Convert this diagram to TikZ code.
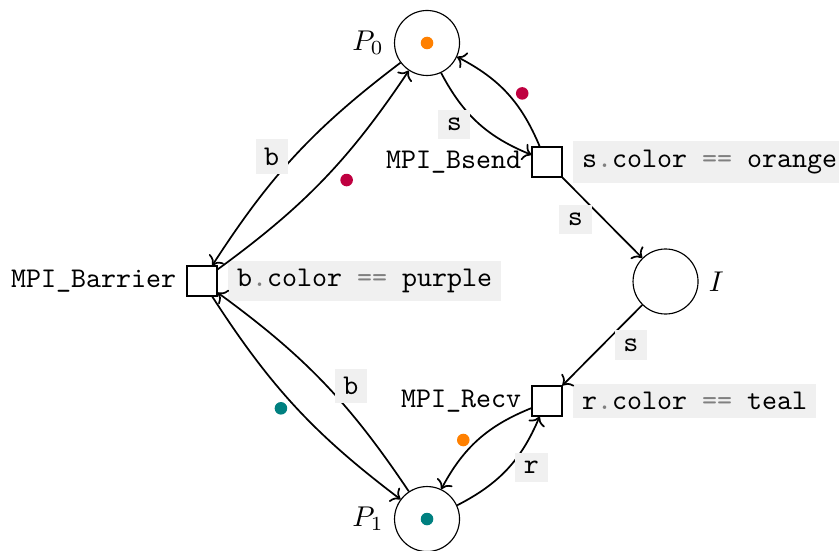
\documentclass[tikz,border=0pt]{standalone}
\usetikzlibrary{arrows.meta,positioning}
\tikzset{
	->,
	place/.style ={circle, draw, thin, minimum size=22.75pt, inner sep=0pt},
	transition/.style ={rectangle, draw, thin, minimum size=10.5pt, inner sep=0pt},
	token/.style = {circle, inner sep=0pt, minimum size=4.4pt},
	guard/.style = {fill=black!6, inner sep=3pt, font=\ttfamily},
	inscr/.style = {fill=black!6, inner sep=3pt, font=\ttfamily}
}
\newcommand{\guardop}[1]{{\color{black!50}#1}}

\begin{document}
\begin{tikzpicture}[semithick]
    \useasboundingbox (0,0) rectangle (10.321,6.766);

    \node[place, label=left:$P_0$] (p0) at (5.253,6.237) {};
    \node[place, label=left:$P_1$] (p1) at (5.253,0.381) {};
    \node[place, label=right:$I$] (i) at (8.187,3.303) {};
    \node[transition, label={left:\texttt{MPI\_Bsend}}] (bsend) at (6.729,4.773) {};
    \node[transition, label={left:\texttt{MPI\_Barrier}}] (barrier) at (2.485,3.309) {};
    \node[transition, label={left:\texttt{MPI\_Recv}}] (recv) at (6.729,1.833) {};

    \node[guard, right=3.5pt of bsend] (gbsend) {s\guardop{.}color \guardop{==} orange};
    \node[guard, right=3.5pt of barrier] (gbarrier) {b\guardop{.}color \guardop{==} purple};
    \node[guard, right=3.5pt of recv] (grecv) {r\guardop{.}color \guardop{==} teal};

    % tokens
    \node[token, fill=orange] (t0) at (p0) {};
    \node[token, fill=teal] (t1) at (p1) {};
    \node[token, fill=purple] (ta) at (6.424,5.617) {};
    \node[token, fill=purple] (tb) at (4.264,4.551) {};
    \node[token, fill=teal] (tc) at (3.456,1.743) {};
    \node[token, fill=orange] (td) at (5.699,1.353) {};

    \path (p0) edge[bend right=20] node[inscr, pos=0.52, left=3pt] (l1) {s} (bsend);
    \path (bsend) edge[bend right=20] (p0);
    \path (bsend) edge node[inscr, pos=0.35, below left=-1pt] (l2) {s} (i);
    \path (i) edge node[inscr, pos=0.33, below right=-1pt] (l3) {s} (recv);
    \path (recv) edge[bend right=20] (p1);
    \path (p1) edge[bend right=20] node[inscr, pos=0.52, right=2pt] (l4) {r} (recv);

    \path (p0) edge[bend right=10] node[inscr, pos=0.51, left=2pt] (l5) {b} (barrier);
    \path (barrier) edge[bend right=10] (p0);
    \path (barrier) edge[bend right=10] (p1);
    \path (p1) edge[bend right=10] node[inscr, pos=0.48, right=2.5pt] (l6) {b} (barrier);

\end{tikzpicture}
\end{document}
